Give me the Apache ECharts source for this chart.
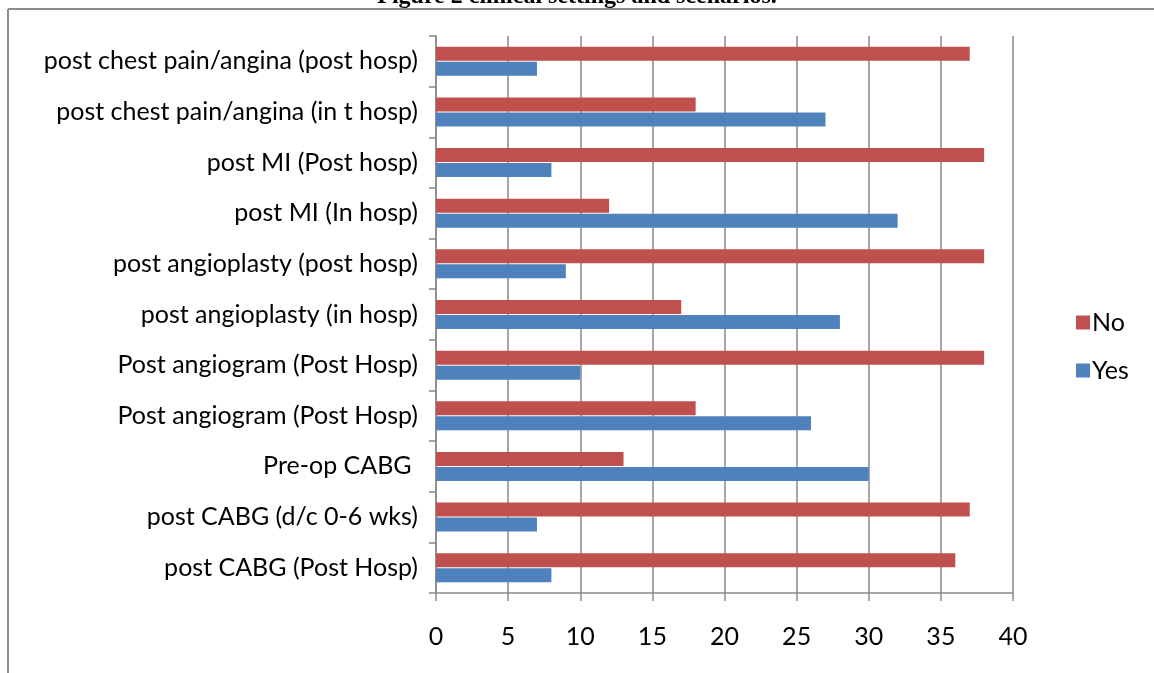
<!DOCTYPE html>
<html>
<head>
<meta charset="utf-8">
<script src="https://cdn.jsdelivr.net/npm/echarts@6/dist/echarts.min.js"></script>
<style>
html,body{margin:0;padding:0;background:#fff;}
#chart{width:1154px;height:673px;}
</style>
</head>
<body>
<div id="chart"></div>
<script>
const titleText = 'Figure 2 clinical settings and scenarios.';
const categories = [
  'post CABG (Post Hosp)',
  'post CABG (d/c 0-6 wks)',
  'Pre-op CABG ',
  'Post angiogram (Post Hosp)',
  'Post angiogram (Post Hosp)',
  'post angioplasty (in hosp)',
  'post angioplasty (post hosp)',
  'post MI (In hosp)',
  'post MI (Post hosp)',
  'post chest pain/angina (in t hosp)',
  'post chest pain/angina (post hosp)'
];
const yesValues = [8, 7, 30, 26, 10, 28, 9, 32, 8, 27, 7];
const noValues = [36, 37, 13, 18, 38, 17, 38, 12, 38, 18, 37];

const FONT = 'Lato, "Open Sans", sans-serif';
const FS = 25;
const chart = echarts.init(document.getElementById('chart'), null, {renderer: 'canvas'});
chart.setOption({
  animation: false,
  backgroundColor: '#ffffff',
  graphic: [
    {type: 'text', left: 'center', top: -15, style: {text: titleText, font: 'bold 24px "Liberation Serif", serif', fill: '#000'}},
    {type: 'line', shape: {x1: 8, y1: 9, x2: 1154, y2: 9}, style: {stroke: '#8c8c8c', lineWidth: 2}},
    {type: 'line', shape: {x1: 8, y1: 9, x2: 8, y2: 673}, style: {stroke: '#8c8c8c', lineWidth: 2}}
  ],
  legend: {
    orient: 'vertical',
    left: 1071,
    top: 305,
    itemWidth: 14,
    itemHeight: 14,
    itemGap: 23,
    data: ['No', 'Yes'],
    textStyle: {fontFamily: FONT, fontSize: FS, color: '#000', padding: [0, 0, 0, -3]},
    icon: 'rect'
  },
  grid: {left: 436, right: 141, top: 36, bottom: 80, containLabel: false},
  xAxis: {
    type: 'value',
    min: 0, max: 40, interval: 5,
    axisLine: {show: true, lineStyle: {color: '#8a8a8a', width: 1.5}},
    axisTick: {show: true, length: 8, lineStyle: {color: '#8a8a8a', width: 1.5}},
    splitLine: {show: true, lineStyle: {color: '#8a8a8a', width: 1.5}},
    axisLabel: {fontFamily: FONT, fontSize: FS, color: '#000', margin: 31}
  },
  yAxis: {
    type: 'category',
    data: categories,
    axisLine: {show: true, lineStyle: {color: '#8a8a8a', width: 1.5}},
    axisTick: {show: true, length: 7, lineStyle: {color: '#8a8a8a', width: 1.5}},
    axisLabel: {fontFamily: FONT, fontSize: FS, color: '#000', margin: 18}
  },
  series: [
    {name: 'No', type: 'bar', data: noValues, barWidth: 14, barGap: '7%', itemStyle: {color: '#c0504d'}},
    {name: 'Yes', type: 'bar', data: yesValues, barWidth: 14, barGap: '7%', itemStyle: {color: '#4f81bd'}}
  ]
});
</script>
</body>
</html>
